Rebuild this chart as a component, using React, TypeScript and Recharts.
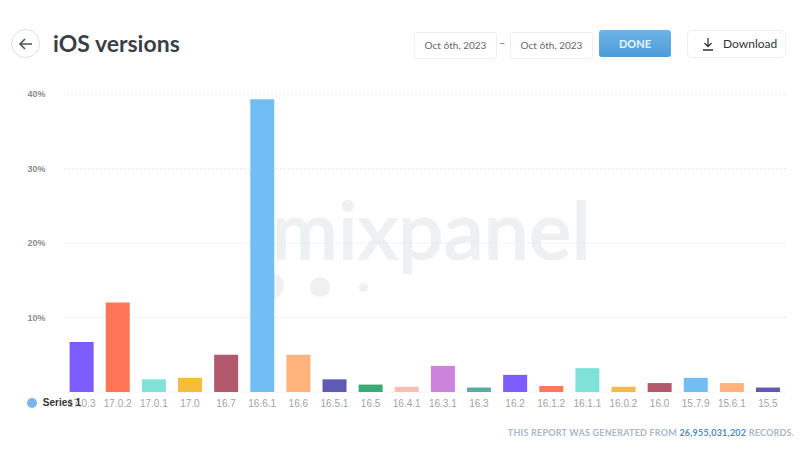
import { Bar, BarChart, CartesianGrid, Cell, Legend, XAxis, YAxis } from "recharts";

const versions = [
  "17.0.3", "17.0.2", "17.0.1", "17.0", "16.7", "16.6.1", "16.6", "16.5.1", "16.5", "16.4.1",
  "16.3.1", "16.3", "16.2", "16.1.2", "16.1.1", "16.0.2", "16.0", "15.7.9", "15.6.1", "15.5",
];
const shares = [6.7, 12, 1.7, 1.9, 5, 39.3, 5, 1.7, 1.0, 0.7, 3.5, 0.6, 2.3, 0.8, 3.2, 0.7, 1.2, 1.9, 1.2, 0.6];
const palette = [
  "#7c5cff", "#ff7557", "#80e1d9", "#f8bc3b", "#b2596e", "#72bef4",
  "#ffb27a", "#5f5bb5", "#3ba974", "#ffbeb2", "#cb83db", "#5baba4",
];
const yTicks = [0, 10, 20, 30, 40];

const data = versions.map((version, i) => ({ version, share: shares[i] }));

const uiFont = "Lato, sans-serif";

const dateBox = (left: number) => ({
  position: "absolute" as const,
  left,
  top: 32,
  width: 81,
  height: 25,
  border: "1px solid #eceef0",
  borderRadius: 3,
  fontSize: 10,
  lineHeight: "25px",
  textAlign: "center" as const,
  color: "#666",
});

export default function App() {
  return (
    <div style={{ position: "absolute", left: 0, top: 0, width: 806, height: 452, background: "#fff", overflow: "hidden", fontFamily: uiFont }}>
      {/* watermark */}
      <div style={{ position: "absolute", left: 272, top: 178, fontSize: 80, lineHeight: "100px", color: "#eef0f1", WebkitTextStroke: "2px #eef0f1", fontFamily: "Lato, sans-serif", letterSpacing: 0.5 }}>mixpanel</div>
      <div style={{ position: "absolute", left: 310, top: 277, width: 20, height: 20, borderRadius: 10, background: "#eef0f1" }} />
      <div style={{ position: "absolute", left: 359, top: 283, width: 9, height: 9, borderRadius: 5, background: "#eef0f1" }} />
      <div style={{ position: "absolute", left: 258, top: 273, width: 26, height: 26, borderRadius: 13, background: "#eef0f1" }} />

      <div style={{ position: "absolute", left: 0, top: 0 }}>
        <BarChart width={806} height={452} data={data} margin={{ top: 94, right: 20, bottom: 0, left: 0 }} barCategoryGap="17%">
          <CartesianGrid vertical={false} stroke="#e4e6e8" strokeDasharray="2 2" />
          <XAxis
            dataKey="version"
            interval={0}
            axisLine={false}
            tickLine={false}
            height={60}
            tickMargin={2}
            tick={{ fontSize: 10, fill: "#a3a3a3", fontFamily: "Liberation Sans" }}
          />
          <YAxis
            width={63.5}
            domain={[0, 40]}
            ticks={yTicks}
            axisLine={false}
            tickLine={false}
            tickMargin={12}
            tickFormatter={(value) => (value === 0 ? "" : `${value}%`)}
            tick={{ fontSize: 9, fontWeight: 700, fill: "#8a8d92", fontFamily: "Liberation Sans" }}
          />
          <Bar dataKey="share" name="Series 1" fill="#7cb5ec" isAnimationActive={false}>
            {data.map((entry, i) => (
              <Cell key={entry.version} fill={palette[i % palette.length]} />
            ))}
          </Bar>
          <Legend
            verticalAlign="middle"
            align="center"
            iconType="circle"
            iconSize={10}
            wrapperStyle={{ left: 9, top: 397, width: 100, bottom: "auto", fontSize: 10, fontWeight: 700, fontFamily: "Liberation Sans" }}
            formatter={(value) => <span style={{ color: "#333", marginLeft: 2 }}>{value}</span>}
          />
        </BarChart>
      </div>

      {/* page header */}
      <div style={{ position: "absolute", left: 11, top: 29, width: 27, height: 27, border: "1px solid #dde1e5", borderRadius: "50%" }}>
        <svg width={27} height={27} viewBox="0 0 27 27">
          <path d="M8 14 H20 M13 9 L8 14 L13 19" fill="none" stroke="#4a5560" strokeWidth={1.6} />
        </svg>
      </div>
      <div style={{ position: "absolute", left: 53, top: 27, fontSize: 23, lineHeight: "32px", fontWeight: 700, color: "#3a3f47" }}>iOS versions</div>

      <div style={dateBox(414)}>Oct 6th, 2023</div>
      <div style={{ position: "absolute", left: 499, top: 36, fontSize: 11, color: "#777" }}>–</div>
      <div style={dateBox(510)}>Oct 6th, 2023</div>
      <div style={{ position: "absolute", left: 599, top: 30, width: 72, height: 27, borderRadius: 3, background: "linear-gradient(#6cb4e8, #4f9cdb)", color: "#e8f3fb", fontSize: 11, fontWeight: 700, lineHeight: "27px", textAlign: "center" }}>DONE</div>
      <div style={{ position: "absolute", left: 687, top: 30, width: 97, height: 26, border: "1px solid #eceef0", borderRadius: 5, fontSize: 12, lineHeight: "25px", color: "#333" }}>
        <svg width={14} height={14} viewBox="0 0 14 14" style={{ position: "absolute", left: 13, top: 6 }}>
          <path d="M7 1 V9 M3.5 6 L7 9.5 L10.5 6 M2 13 H12" fill="none" stroke="#333" strokeWidth={1.3} />
        </svg>
        <span style={{ position: "absolute", left: 35, whiteSpace: "nowrap" }}>Download</span>
      </div>

      {/* footer */}
      <div style={{ position: "absolute", right: 12, top: 427, fontSize: 9, fontWeight: 700, lineHeight: "12px", letterSpacing: 0.22, color: "#a9b7c6", whiteSpace: "nowrap" }}>
        THIS REPORT WAS GENERATED FROM <span style={{ color: "#4f8fc0" }}>26,955,031,202</span> RECORDS.
      </div>
    </div>
  );
}
